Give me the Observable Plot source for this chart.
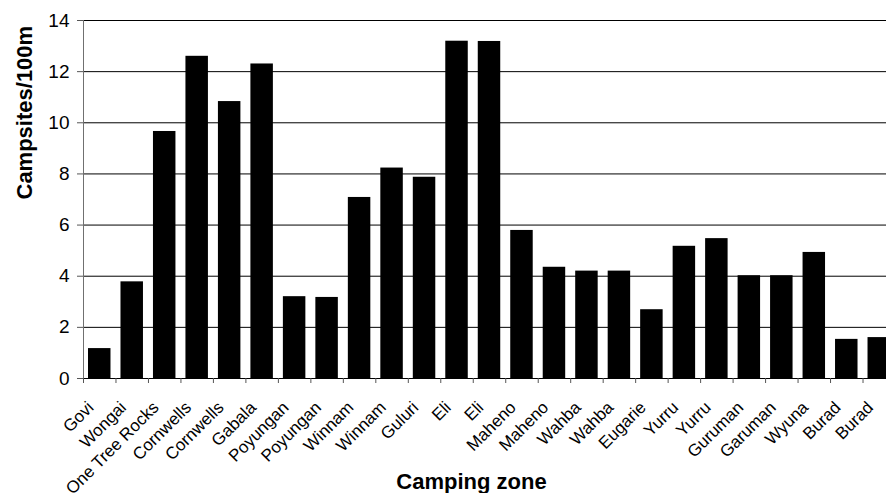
<!DOCTYPE html>
<html>
<head>
<meta charset="utf-8">
<script src="https://cdn.jsdelivr.net/npm/d3@7"></script>
<script src="https://cdn.jsdelivr.net/npm/@observablehq/plot@0.6"></script>
<style>
  html, body { margin: 0; padding: 0; background: white; overflow: hidden; }
  #chart svg { display: block; max-width: none !important; }
</style>
</head>
<body>
<div id="chart"></div>
<script>
const zones = ["Govi","Wongai","One Tree Rocks","Cornwells","Cornwells","Gabala","Poyungan","Poyungan","Winnam","Winnam","Guluri","Eli","Eli","Maheno","Maheno","Wahba","Wahba","Eugarie","Yurru","Yurru","Guruman","Garuman","Wyuna","Burad","Burad"];
const campsites = [1.17,3.78,9.66,12.6,10.83,12.3,3.2,3.17,7.08,8.23,7.87,13.19,13.18,5.79,4.35,4.2,4.2,2.69,5.17,5.47,4.02,4.02,4.93,1.53,1.6];
const yTicks = [0,2,4,6,8,10,12,14];
const xTitle = "Camping zone";
const yTitle = "Campsites/100m";

const data = zones.map((z, i) => ({i, zone: z, value: campsites[i]}));
const boundaries = d3.range(zones.length + 1);

const chart = Plot.plot({
  width: 895,
  height: 493,
  marginLeft: 83,
  marginRight: 0,
  marginTop: 20,
  marginBottom: 115,
  style: {fontFamily: "'Liberation Sans', Arial, sans-serif", background: "white", color: "black", maxWidth: "none"},
  x: {type: "linear", domain: [0, zones.length], axis: null},
  y: {domain: [0, 14], axis: null},
  marks: [
    Plot.gridY(yTicks, {stroke: "black", strokeOpacity: 1, strokeWidth: 1}),
    Plot.rectY(data, {x1: "i", x2: d => d.i + 1, y: "value", fill: "black", insetLeft: 5, insetRight: 5}),
    Plot.ruleX([0], {stroke: "#707070"}),
    Plot.ruleY([0], {stroke: "black"}),
    Plot.axisY(yTicks, {tickSize: 6, tickPadding: 8, fontSize: 19, label: null, stroke: "#555"}),
    Plot.axisX(boundaries, {tickSize: 5, tickFormat: () => "", label: null, stroke: "#555"}),
    Plot.text(data, {x: d => d.i + 0.5, y: () => 0, text: "zone", rotate: -45, textAnchor: "end", lineAnchor: "bottom", dx: -5, dy: 30, fontSize: 17, fill: "black"}),
    Plot.text([yTitle], {frameAnchor: "left", dx: -59, rotate: -90, fontWeight: "bold", fontSize: 22, fill: "black"}),
    Plot.text([xTitle], {frameAnchor: "bottom", dx: -18, dy: 110, fontWeight: "bold", fontSize: 22, fill: "black"})
  ]
});
document.getElementById("chart").appendChild(chart);
</script>
</body>
</html>
